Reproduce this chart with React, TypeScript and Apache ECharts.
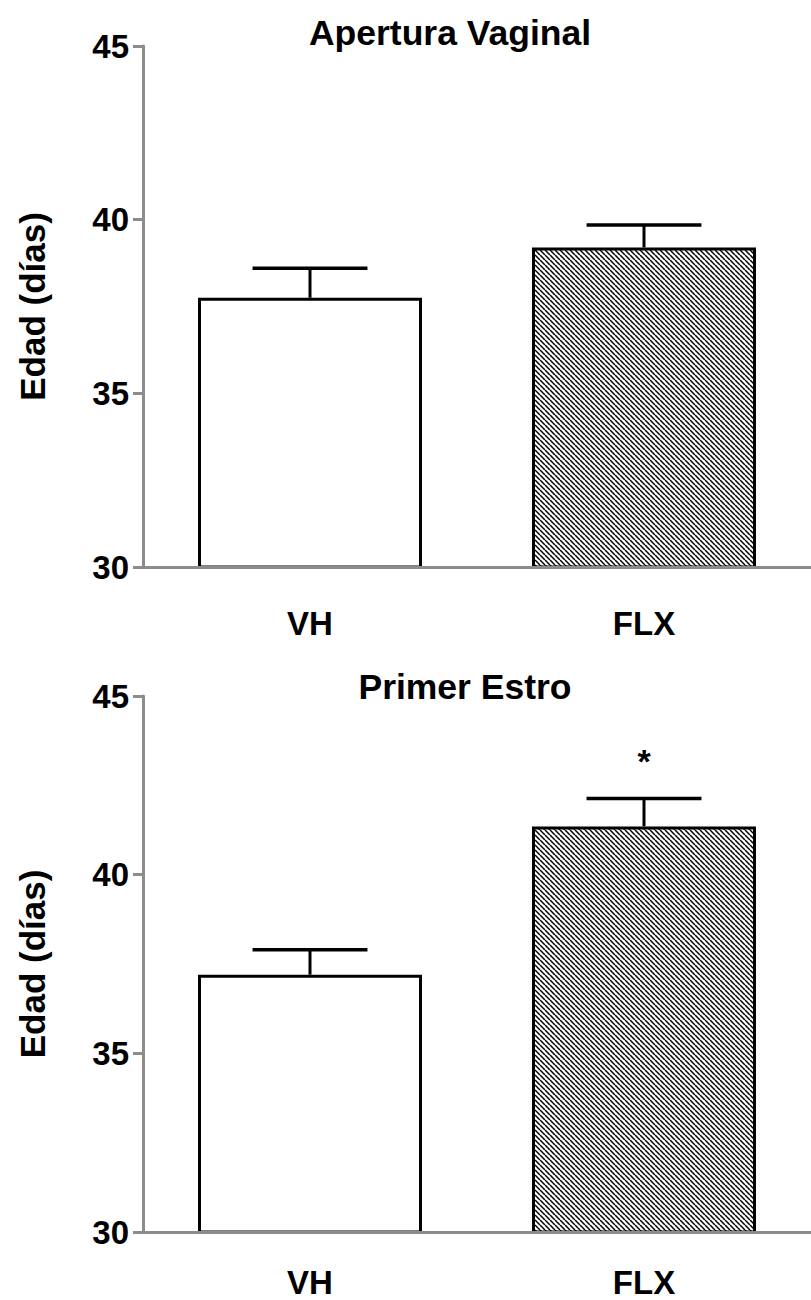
import React, { useEffect, useRef } from "react";
import * as echarts from "echarts";

const categories = ["VH", "FLX"];
const titles = ["Apertura Vaginal", "Primer Estro"];
const yAxisName = "Edad (días)";
const yMin = 30;
const yMax = 45;
const yInterval = 5;

const aperturaMean = [37.75, 39.2];
const aperturaSem = [0.85, 0.65];
const aperturaSig = ["", ""];

const estroMean = [37.2, 41.35];
const estroSem = [0.7, 0.78];
const estroSig = ["", "*"];

const FONT = "'Liberation Sans', Arial, Helvetica, sans-serif";
const AXIS_GRAY = "#8c8c8c";

function makeHatch(s: number): HTMLCanvasElement {
  const c = document.createElement("canvas");
  c.width = s;
  c.height = s;
  const ctx = c.getContext("2d")!;
  ctx.fillStyle = "#fff";
  ctx.fillRect(0, 0, s, s);
  ctx.strokeStyle = "#000";
  ctx.lineWidth = 1.5;
  for (const k of [-s, 0, s]) {
    ctx.beginPath();
    ctx.moveTo(k, 0);
    ctx.lineTo(k + s, s);
    ctx.stroke();
  }
  return c;
}

export default function App() {
  const ref = useRef<HTMLDivElement>(null);

  useEffect(() => {
    if (!ref.current) return;
    const chart = echarts.init(ref.current, undefined, { renderer: "svg" });
    const tile = 5;
    const hatch = {
      image: makeHatch(tile),
      repeat: "repeat",
      imageWidth: tile,
      imageHeight: tile,
    };

    const panels = [
      { mean: aperturaMean, sem: aperturaSem, sig: aperturaSig },
      { mean: estroMean, sem: estroSem, sig: estroSig },
    ];

    const grids = [
      { left: 143, top: 46, right: 0, height: 521 },
      { left: 143, top: 696, right: 0, height: 536 },
    ];

    const series: any[] = [];
    panels.forEach((p, i) => {
      series.push({
        type: "bar",
        xAxisIndex: i,
        yAxisIndex: i,
        barWidth: 224,
        z: 2,
        itemStyle: { borderColor: "#000", borderWidth: 3 },
        data: p.mean.map((v, j) => ({
          value: v,
          itemStyle: { color: j === 0 ? "#ffffff" : hatch },
        })),
      });
      series.push({
        type: "custom",
        xAxisIndex: i,
        yAxisIndex: i,
        clip: false,
        z: 3,
        data: p.mean.map((v, j) => [j, v, p.sem[j]]),
        renderItem: (params: any, api: any) => {
          const idx = api.value(0);
          const m = api.value(1);
          const e = api.value(2);
          const sig = p.sig[params.dataIndex];
          const base = api.coord([idx, m]);
          const top = api.coord([idx, m + e]);
          const band = api.size([1, 0])[0];
          const half = band * 0.172;
          const children: any[] = [
            {
              type: "line",
              shape: { x1: base[0], y1: base[1], x2: top[0], y2: top[1] },
              style: { stroke: "#000", lineWidth: 3 },
            },
            {
              type: "line",
              shape: { x1: top[0] - half, y1: top[1], x2: top[0] + half, y2: top[1] },
              style: { stroke: "#000", lineWidth: 3.5 },
            },
          ];
          if (sig) {
            children.push({
              type: "text",
              x: top[0],
              y: top[1] - 38,
              style: {
                text: sig,
                font: `bold 34px ${FONT}`,
                fill: "#000",
                textAlign: "center",
                textVerticalAlign: "middle",
              },
            });
          }
          return { type: "group", children };
        },
      });
    });

    const titleX = [445, 460];
    const titleTop = [10, 664];
    const labelMargin = [40, 34];

    const option: any = {
      animation: false,
      backgroundColor: "#fff",
      title: titles.map((t, i) => ({
        text: t,
        left: titleX[i],
        top: titleTop[i],
        textAlign: "center",
        textStyle: {
          fontSize: 35.5,
          fontWeight: "bold",
          fontFamily: FONT,
          color: "#000",
        },
      })),
      grid: grids,
      xAxis: [0, 1].map((i) => ({
        type: "category",
        gridIndex: i,
        data: categories,
        z: 10,
        axisLine: { show: true, lineStyle: { color: AXIS_GRAY, width: 3 } },
        axisTick: { show: false },
        axisLabel: {
          color: "#000",
          fontSize: 33,
          fontWeight: "bold",
          fontFamily: FONT,
          margin: labelMargin[i],
        },
        splitLine: { show: false },
      })),
      yAxis: [0, 1].map((i) => ({
        type: "value",
        gridIndex: i,
        min: yMin,
        max: yMax,
        interval: yInterval,
        z: 10,
        name: yAxisName,
        nameLocation: "middle",
        nameGap: 93,
        nameTextStyle: {
          color: "#000",
          fontSize: 35,
          fontWeight: "bold",
          fontFamily: FONT,
        },
        axisLine: { show: true, lineStyle: { color: AXIS_GRAY, width: 3 } },
        axisTick: { show: true, length: 10, lineStyle: { color: AXIS_GRAY, width: 3 } },
        axisLabel: {
          color: "#000",
          fontSize: 33,
          fontWeight: "bold",
          fontFamily: FONT,
          margin: 14,
        },
        splitLine: { show: false },
      })),
      series,
    };

    chart.setOption(option);
    return () => chart.dispose();
  }, []);

  return (
    <div
      ref={ref}
      style={{ position: "absolute", left: 0, top: 0, width: 811, height: 1300 }}
    />
  );
}
